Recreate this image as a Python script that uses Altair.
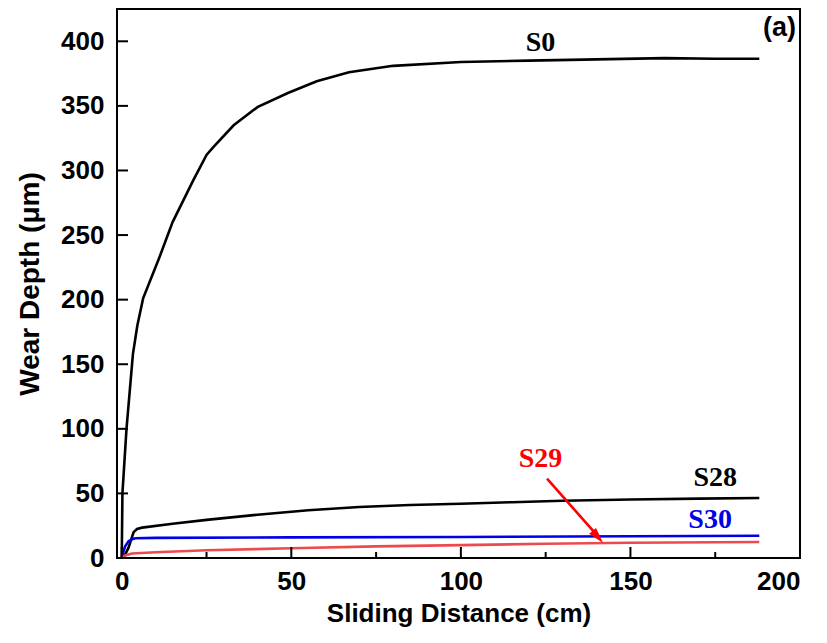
import altair as alt
import pandas as pd

# ---- data ----
s0_x = [0, 0.2, 1.4, 3.3, 4.6, 6.3, 11, 15, 21, 25, 27, 33, 40, 49, 57.5, 67, 80, 100, 120, 140, 160, 175, 188]
s0_y = [0, 50, 100, 158, 180, 201, 232, 260, 292, 312, 318, 335, 349, 360, 369, 376, 381, 384, 385, 386, 387, 386.5, 386.5]

s28_x = [0.5, 2, 3.5, 4.5, 6, 15, 25, 40, 55, 70, 85, 100, 115, 130, 150, 170, 188]
s28_y = [0, 8, 20, 22.5, 23.5, 26.5, 29.5, 33.5, 37, 39.5, 41, 42, 43.2, 44.3, 45.3, 46, 46.5]

s30_x = [0, 0.5, 1, 2, 3, 4, 10, 50, 100, 150, 188]
s30_y = [0, 5, 9, 13, 14.5, 15.3, 15.6, 16, 16.3, 16.8, 17.2]

s29_x = [0, 1, 3, 10, 25, 50, 75, 100, 125, 150, 188]
s29_y = [0, 2, 3.5, 4.5, 6, 7.5, 9, 10, 11, 11.8, 12.4]

series_names = ["S0", "S28", "S30", "S29"]
series_colors = ["#000000", "#000000", "#0000e6", "#ec4b4e"]

x_major = [0, 50, 100, 150, 200]
x_minor = [25, 75, 125, 175]
y_major = [0, 50, 100, 150, 200, 250, 300, 350, 400]

label_text = ["S0", "S28", "S30", "S29"]
label_x = [123.5, 175, 173.5, 123.5]
label_y = [399, 62, 29.5, 77]
label_color = ["#000000", "#000000", "#0000e6", "#ff0000"]

arrow_x = [125.4]
arrow_y = [61.5]
arrow_x2 = [140.5]
arrow_y2 = [16.5]
head_x = [140.0]
head_y = [17.5]
head_angle = [139]

panel_tag = ["(a)"]

# ---- tables ----
rows = []
for name, xs_, ys_ in [("S0", s0_x, s0_y), ("S28", s28_x, s28_y), ("S30", s30_x, s30_y), ("S29", s29_x, s29_y)]:
    for i, (a, b) in enumerate(zip(xs_, ys_)):
        rows.append({"series": name, "x": a, "y": b, "order": i})
curves = pd.DataFrame(rows)

X_DOM = [-1.4, 200]
Y_DOM = [0, 425]
W, H = 683, 549

xs = alt.Scale(domain=X_DOM, nice=False, zero=False)
ys = alt.Scale(domain=Y_DOM, nice=False, zero=False)

base = alt.Chart(curves)

lines = base.mark_line(strokeWidth=2.6, clip=True).encode(
    x=alt.X("x:Q", scale=xs,
            axis=alt.Axis(values=x_major, title="Sliding Distance (cm)", ticks=False, domain=False,
                          grid=False, labelPadding=10, titlePadding=6, titleFontSize=26, format="d")),
    y=alt.Y("y:Q", scale=ys,
            axis=alt.Axis(values=y_major, title="Wear Depth (\u03bcm)", ticks=False, domain=False,
                          grid=False, labelPadding=13, titlePadding=16, format="d")),
    color=alt.Color("series:N", scale=alt.Scale(domain=series_names, range=series_colors), legend=None),
    order="order:Q",
    detail="series:N",
)

xt_major = alt.Chart(pd.DataFrame({"v": x_major})).mark_rule(color="black", strokeWidth=2).encode(
    x=alt.X("v:Q", scale=xs), y=alt.value(H), y2=alt.value(H - 11))
xt_minor = alt.Chart(pd.DataFrame({"v": x_minor})).mark_rule(color="black", strokeWidth=2).encode(
    x=alt.X("v:Q", scale=xs), y=alt.value(H), y2=alt.value(H - 6))
yt_major = alt.Chart(pd.DataFrame({"v": y_major})).mark_rule(color="black", strokeWidth=2).encode(
    y=alt.Y("v:Q", scale=ys), x=alt.value(0), x2=alt.value(11))

labels = alt.Chart(pd.DataFrame({"t": label_text, "x": label_x, "y": label_y, "c": label_color})).mark_text(
    font="Liberation Serif", fontWeight="bold", fontSize=28, baseline="middle", align="center").encode(
    x=alt.X("x:Q", scale=xs), y=alt.Y("y:Q", scale=ys), text="t:N", color=alt.Color("c:N", scale=None))

arrow = alt.Chart(pd.DataFrame({"x": arrow_x, "y": arrow_y, "x2": arrow_x2, "y2": arrow_y2})).mark_rule(
    color="#ff0000", strokeWidth=2.6).encode(
    x=alt.X("x:Q", scale=xs), y=alt.Y("y:Q", scale=ys), x2="x2:Q", y2="y2:Q")

head = alt.Chart(pd.DataFrame({"x": head_x, "y": head_y, "a": head_angle})).mark_point(
    shape="M0,-1L0.45,0.6L-0.45,0.6Z", filled=True, color="#ff0000", size=400, opacity=1).encode(
    x=alt.X("x:Q", scale=xs), y=alt.Y("y:Q", scale=ys), angle=alt.Angle("a:Q", scale=None))

tag = alt.Chart(pd.DataFrame({"t": panel_tag})).mark_text(
    font="Liberation Sans", fontWeight="bold", fontSize=27, align="right", baseline="top").encode(
    x=alt.value(W - 4), y=alt.value(6), text="t:N")

chart = alt.layer(lines, xt_major, xt_minor, yt_major, arrow, head, labels, tag).properties(
    width=W, height=H,
    padding={"left": 109, "top": 1, "right": 10, "bottom": 78},
    autosize=alt.AutoSizeParams(type="none"),
    background="white",
).configure_view(stroke="black", strokeWidth=2).configure_axis(
    labelFont="Liberation Sans", labelFontWeight="bold", labelFontSize=26, labelColor="black",
    titleFont="Liberation Sans", titleFontWeight="bold", titleFontSize=28, titleColor="black",
)

chart.save("out.html", embed_options={"renderer": "svg", "actions": False})
